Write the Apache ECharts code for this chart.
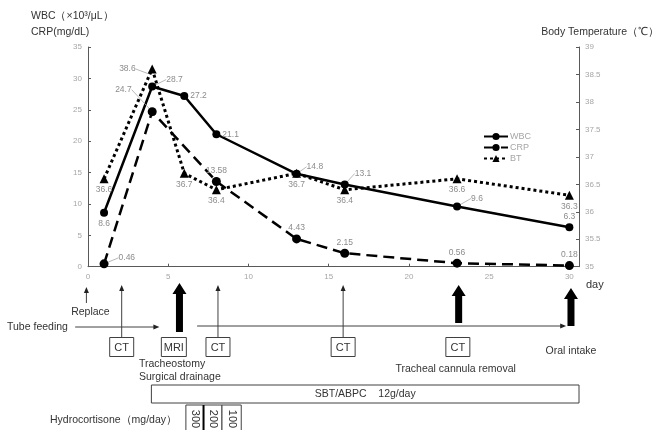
<!DOCTYPE html>
<html>
<head>
<meta charset="utf-8">
<script src="https://cdn.jsdelivr.net/npm/echarts@6/dist/echarts.min.js"></script>
<style>html,body{margin:0;padding:0;background:#fff}#c{width:662px;height:430px}</style>
</head>
<body>
<div id="c"></div>
<script>
// ---- chart data ----
const days    = [1, 4, 6, 8, 13, 16, 23, 30];
const wbc     = [8.6, 28.7, 27.2, 21.1, 14.8, 13.1, 9.6, 6.3];
const crpDays = [1, 4, 8, 13, 16, 23, 30];
const crp     = [0.46, 24.7, 13.58, 4.43, 2.15, 0.56, 0.18];
const bt      = [36.6, 38.6, 36.7, 36.4, 36.7, 36.4, 36.6, 36.3];
const xTicks  = [0, 5, 10, 15, 20, 25, 30];

// ---- timeline annotations (days) ----
const replaceDay     = -0.1;
const ctArrowDays    = [2.1, 8.1, 15.9];
const ctBoxDays      = [2.1, 8.1, 15.9, 23.05];
const mriDay         = 5.35;
const thickArrowDays = [5.7, 23.1, 30.1];
const tubeFeeding    = [[-0.8, 4.45], [6.8, 29.8]];
const sbtRange       = [3.95, 30.6];
const hydroEdges     = [6.1, 7.2, 8.35, 9.55];
const hydroDoses     = ['300', '200', '100'];

const FONT = '"Liberation Sans", Arial, sans-serif';
const LBL = '#8c8c8c';

// per-point label placement (layout); lead = draw short leader line
const wbcLbl = [
  {position:'bottom', offset:[-3,0]},
  {position:'right', offset:[0,0], lead:[8,-7]},
  {position:'right', offset:[2,0]},
  {position:'right', offset:[0,0]},
  {position:'right', offset:[0,0], lead:[4,-7]},
  {position:'right', offset:[0,0], lead:[4,-11]},
  {position:'right', offset:[0,0], lead:[8,-8]},
  {position:'top', offset:[-3,4]}
];
const crpLbl = [
  {position:'right', offset:[0,0], lead:[8,-6]},
  {position:'left', offset:[0,0], lead:[-14,-22]},
  {position:'top', offset:[0,0]},
  {position:'top', offset:[0,1]},
  {position:'top', offset:[0,0]},
  {position:'top', offset:[0,0]},
  {position:'top', offset:[-3,1]}
];
const btLbl = [
  {position:'bottom', offset:[-2,0]},
  {position:'left', offset:[0,0], lead:[-10,0]},
  {position:'bottom', offset:[0,-1]},
  {position:'bottom', offset:[0,-2]},
  {position:'bottom', offset:[0,-1]},
  {position:'bottom', offset:[0,-2]},
  {position:'bottom', offset:[0,-1]},
  {position:'bottom', offset:[-3,-2]}
];

function mk(xs, ys, lbl) {
  return xs.map((x, i) => ({
    value: [x, ys[i]],
    label: {show:true, distance:2, position:lbl[i].position, offset:lbl[i].offset},
    labelLine: {show: !!lbl[i].lead, lineStyle:{color:'#a6a6a6', width:0.8}, length2: 0}
  }));
}
function layoutFor(lbl) {
  return function (p) {
    const l = lbl[p.dataIndex];
    return l && l.lead ? {dx: l.lead[0], dy: l.lead[1]} : {};
  };
}

const chart = echarts.init(document.getElementById('c'), null, {renderer:'canvas'});

function renderAnnotations(params, api) {
  const px = d => api.coord([d, 0])[0];
  const ch = [];
  const stroke = '#404040';
  const txt = (x, y, s, opt) => ({type:'text', style:Object.assign({x:x, y:y, text:s, fill:'#333', font:'11px ' + FONT, align:'center', verticalAlign:'middle'}, opt||{})});
  const thinArrow = (x, y1, y2) => {
    ch.push({type:'line', shape:{x1:x, y1:y1, x2:x, y2:y2+4}, style:{stroke:stroke, lineWidth:1}});
    ch.push({type:'polygon', shape:{points:[[x, y2], [x-2.5, y2+6], [x+2.5, y2+6]]}, style:{fill:'#222'}});
  };
  const hArrow = (x1, x2, y) => {
    ch.push({type:'line', shape:{x1:x1, y1:y, x2:x2-4, y2:y}, style:{stroke:stroke, lineWidth:1}});
    ch.push({type:'polygon', shape:{points:[[x2, y], [x2-6, y-2.5], [x2-6, y+2.5]]}, style:{fill:'#222'}});
  };
  const thickArrow = (x, top, bottom) => {
    ch.push({type:'polygon', shape:{points:[
      [x, top], [x+7, top+11], [x+3.5, top+11], [x+3.5, bottom],
      [x-3.5, bottom], [x-3.5, top+11], [x-7, top+11]
    ]}, style:{fill:'#000'}});
  };
  const box = (cx, w, y, h, s) => {
    ch.push({type:'rect', shape:{x:cx-w/2, y:y, width:w, height:h}, style:{fill:'#fff', stroke:stroke, lineWidth:1}});
    ch.push(txt(cx, y+h/2+0.5, s));
  };

  thinArrow(px(replaceDay), 303, 287);
  ch.push(txt(px(replaceDay)+4, 312, 'Replace', {font:'10.5px ' + FONT}));
  ch.push(txt(7, 327, 'Tube feeding', {align:'left', font:'10.5px ' + FONT}));
  hArrow(px(tubeFeeding[0][0]), px(tubeFeeding[0][1]), 327);
  hArrow(px(tubeFeeding[1][0]), px(tubeFeeding[1][1]), 326);
  ctArrowDays.forEach(d => thinArrow(px(d), 337, 285));
  const thickBottoms = [332, 323, 326];
  const thickTops = [283, 285, 288];
  thickArrowDays.forEach((d, i) => thickArrow(px(d), thickTops[i], thickBottoms[i]));
  ctBoxDays.forEach(d => box(px(d), 24, 337.5, 19, 'CT'));
  box(px(mriDay), 25, 337.5, 19, 'MRI');
  ch.push(txt(139, 364, 'Tracheostomy', {align:'left', font:'10.5px ' + FONT}));
  ch.push(txt(139, 377, 'Surgical drainage', {align:'left', font:'10.5px ' + FONT}));
  ch.push(txt(px(thickArrowDays[1]) - 3, 369, 'Tracheal cannula removal', {font:'10.5px ' + FONT}));
  ch.push(txt(px(thickArrowDays[2]) + 0, 351, 'Oral intake', {font:'10.5px ' + FONT}));
  const sx1 = px(sbtRange[0]), sx2 = px(sbtRange[1]);
  ch.push({type:'rect', shape:{x:sx1, y:385, width:sx2-sx1, height:18}, style:{fill:'#fff', stroke:stroke, lineWidth:1}});
  ch.push(txt((sx1+sx2)/2, 394.5, 'SBT/ABPC    12g/day', {font:'10.5px ' + FONT}));
  ch.push(txt(50, 420, 'Hydrocortisone\uFF08mg/day\uFF09', {align:'left', font:'10.5px ' + FONT}));
  for (let i = 0; i < hydroDoses.length; i++) {
    const a = px(hydroEdges[i]), b = px(hydroEdges[i+1]);
    ch.push({type:'rect', shape:{x:a, y:405, width:b-a, height:40}, style:{fill:'#fff', stroke:stroke, lineWidth:1}});
    ch.push({type:'text', x:(a+b)/2, y:419, rotation:-Math.PI/2,
      style:{x:0, y:0, text:hydroDoses[i], fill:'#333', font:'11px ' + FONT, align:'center', verticalAlign:'middle'}});
  }
  ch.push({type:'line', shape:{x1:px(hydroEdges[1]), y1:405, x2:px(hydroEdges[1]), y2:445}, style:{stroke:'#000', lineWidth:2}});
  return {type:'group', children:ch};
}

const option = {
  animation: false,
  textStyle: {fontFamily: FONT},
  grid: {left: 88, right: 83, top: 47, bottom: 163.3, containLabel: false},
  legend: {
    data: ['WBC', 'CRP', 'BT'], orient: 'vertical', left: 478, top: 127,
    itemWidth: 24, itemHeight: 9, itemGap: 2,
    textStyle: {color: '#a6a6a6', fontSize: 9, fontFamily: FONT, padding:[0,0,0,-3]}
  },
  xAxis: {
    type: 'value', min: 0, max: 30.6, interval: 5,
    axisLine: {lineStyle: {color: '#595959', width: 1}},
    axisTick: {show: true, inside: true, length: 3, lineStyle: {color: '#595959'}},
    axisLabel: {color: '#a6a6a6', fontSize: 8, margin: 6, showMaxLabel: false,
      formatter: v => (xTicks.indexOf(v) >= 0 ? String(v) : '')},
    splitLine: {show: false}
  },
  yAxis: [{
    type: 'value', min: 0, max: 35, interval: 5, position: 'left',
    axisLine: {show: true, lineStyle: {color: '#595959', width: 1}},
    axisTick: {show: true, inside: true, length: 3, lineStyle: {color: '#595959'}},
    axisLabel: {color: '#a6a6a6', fontSize: 8, margin: 6},
    splitLine: {show: false}
  }, {
    type: 'value', min: 35, max: 39, interval: 0.5, position: 'right',
    axisLine: {show: true, lineStyle: {color: '#595959', width: 1}},
    axisTick: {show: true, inside: true, length: 3, lineStyle: {color: '#595959'}},
    axisLabel: {color: '#a6a6a6', fontSize: 8, margin: 6},
    splitLine: {show: false}
  }],
  graphic: [
    {type:'text', left:31, top:11, style:{text:'WBC\uFF08\u00D710\u00B3/\u03BCL\uFF09', fill:'#333', font:'10.5px ' + FONT}},
    {type:'text', left:31, top:27, style:{text:'CRP(mg/dL)', fill:'#333', font:'10.5px ' + FONT}},
    {type:'text', right:3, top:27, style:{text:'Body Temperature\uFF08\u2103\uFF09', fill:'#333', font:'10.5px ' + FONT}},
    {type:'text', left:586, top:279, style:{text:'day', fill:'#333', font:'11px ' + FONT}}
  ],
  series: [{
    name: 'WBC', type: 'line', yAxisIndex: 0,
    data: mk(days, wbc, wbcLbl),
    symbol: 'circle', symbolSize: 8,
    itemStyle: {color: '#000'},
    lineStyle: {color: '#000', width: 2.5, type: 'solid'},
    label: {color: LBL, fontSize: 8.5, fontFamily: FONT},
    labelLayout: layoutFor(wbcLbl),
    z: 3
  }, {
    name: 'CRP', type: 'line', yAxisIndex: 0,
    data: mk(crpDays, crp, crpLbl),
    symbol: 'circle', symbolSize: 9,
    itemStyle: {color: '#000'},
    lineStyle: {color: '#000', width: 2.5, type: [11, 6]},
    label: {color: LBL, fontSize: 8.5, fontFamily: FONT},
    labelLayout: layoutFor(crpLbl),
    z: 3
  }, {
    name: 'BT', type: 'line', yAxisIndex: 1,
    data: mk(days, bt, btLbl),
    symbol: 'triangle', symbolSize: 9,
    itemStyle: {color: '#000'},
    lineStyle: {color: '#000', width: 3, type: [3, 3]},
    label: {color: LBL, fontSize: 8.5, fontFamily: FONT},
    labelLayout: layoutFor(btLbl),
    z: 3
  }, {
    name: 'annotations', type: 'custom', xAxisIndex: 0, yAxisIndex: 0,
    clip: false, silent: true,
    data: [[0, 0]],
    renderItem: renderAnnotations,
    z: 1
  }]
};
chart.setOption(option);
</script>
</body>
</html>
